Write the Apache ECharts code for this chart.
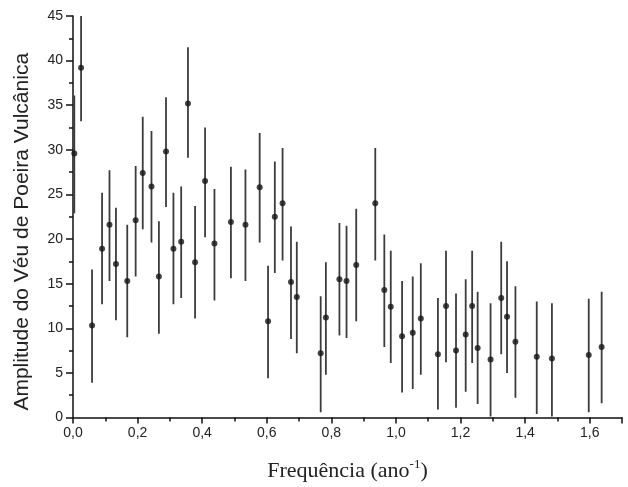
<!DOCTYPE html>
<html>
<head>
<meta charset="utf-8">
<script src="https://cdn.jsdelivr.net/npm/echarts@6/dist/echarts.min.js"></script>
<style>html,body{margin:0;padding:0;background:#fff}#c{width:628px;height:487px}</style>
</head>
<body>
<div id="c"></div>
<script>
var freq = [0.004,0.025,0.059,0.090,0.113,0.133,0.168,0.194,0.216,0.243,0.266,0.288,0.311,0.335,0.356,0.378,0.409,0.438,0.489,0.534,0.578,0.604,0.625,0.649,0.675,0.693,0.767,0.783,0.825,0.847,0.877,0.936,0.964,0.984,1.019,1.052,1.077,1.130,1.155,1.186,1.216,1.236,1.253,1.293,1.326,1.344,1.370,1.436,1.483,1.597,1.637];
var amp = [29.6,39.2,10.3,18.9,21.6,17.2,15.3,22.1,27.4,25.9,15.8,29.8,18.9,19.7,35.2,17.4,26.5,19.5,21.9,21.6,25.8,10.8,22.5,24.0,15.2,13.5,7.2,11.2,15.5,15.3,17.1,24.0,14.3,12.4,9.1,9.5,11.1,7.1,12.5,7.5,9.3,12.5,7.8,6.5,13.4,11.3,8.5,6.8,6.6,7.0,7.9];
var upper = [36.1,45.0,16.6,25.2,27.7,23.5,21.6,28.2,33.7,32.1,22.0,35.9,25.2,25.9,41.5,23.7,32.5,25.6,28.1,27.8,31.9,17.0,28.7,30.2,21.4,19.7,13.6,17.4,21.8,21.5,23.4,30.2,20.5,18.7,15.3,15.8,17.3,13.4,18.7,13.9,15.5,18.7,14.1,12.8,19.7,17.5,14.7,13.0,12.8,13.3,14.1];
var lower = [22.9,33.2,3.9,12.7,15.3,10.9,9.0,15.8,21.1,19.6,9.4,23.6,12.7,13.4,29.1,11.1,20.2,13.1,15.6,15.3,19.6,4.4,16.2,17.6,8.8,7.2,0.6,4.8,9.2,8.9,10.8,17.6,7.9,6.1,2.8,3.2,4.8,0.9,6.2,1.1,2.9,6.1,1.5,0.1,7.1,5.0,2.2,0.4,0.1,0.6,1.6];
var xTicks = [0,0.2,0.4,0.6,0.8,1.0,1.2,1.4,1.6];
var yTicks = [0,5,10,15,20,25,30,35,40,45];

var points = freq.map(function(f,i){return [f, amp[i]];});
var bars = freq.map(function(f,i){return [f, lower[i], upper[i]];});

var chart = echarts.init(document.getElementById('c'), null, {renderer:'canvas'});
chart.setOption({
  animation:false,
  backgroundColor:'#fff',
  grid:{left:73,right:6,top:16,bottom:69,containLabel:false},
  xAxis:{
    type:'value', min:0, max:1.7, interval:0.2,
    axisLine:{show:true,lineStyle:{color:'#111',width:1.5}},
    axisTick:{show:true,length:6,inside:false,lineStyle:{color:'#111',width:1.5}},
    minorTick:{show:true,splitNumber:2,length:4,lineStyle:{color:'#111',width:1.5}},
    splitLine:{show:false},
    axisLabel:{
      margin:9,color:'#222',fontFamily:'Liberation Sans, Arial, sans-serif',fontSize:14,
      formatter:function(v){
        var ok = xTicks.some(function(t){return Math.abs(t-v)<1e-6;});
        return ok ? v.toFixed(1).replace('.',',') : '';
      }
    },
    name:'Frequência (ano{sup|-1})',
    nameLocation:'middle', nameGap:41,
    nameTextStyle:{
      color:'#222',fontFamily:'Liberation Serif, Times New Roman, serif',fontSize:22,
      rich:{sup:{fontSize:13,verticalAlign:'top',padding:[0,0,12,0],color:'#222',fontFamily:'Liberation Serif, serif'}}
    }
  },
  yAxis:{
    type:'value', min:0, max:45, interval:5,
    axisLine:{show:true,lineStyle:{color:'#111',width:1.5}},
    axisTick:{show:true,length:7,lineStyle:{color:'#111',width:1.5}},
    minorTick:{show:true,splitNumber:2,length:4,lineStyle:{color:'#111',width:1.5}},
    splitLine:{show:false},
    axisLabel:{
      margin:10,color:'#222',fontFamily:'Liberation Sans, Arial, sans-serif',fontSize:14,
      formatter:function(v){return yTicks.indexOf(v)>=0 ? String(v) : '';}
    },
    name:'Amplitude do Véu de Poeira Vulcânica',
    nameLocation:'middle', nameGap:40, nameRotate:90,
    nameTextStyle:{color:'#222',fontFamily:'Liberation Sans, Arial, sans-serif',fontSize:21,padding:[0,30,0,0]}
  },
  series:[
    {
      type:'custom',
      clip:true,
      data:bars,
      renderItem:function(params, api){
        var x = api.value(0);
        var p1 = api.coord([x, api.value(1)]);
        var p2 = api.coord([x, api.value(2)]);
        return {
          type:'line',
          shape:{x1:p1[0],y1:p1[1],x2:p2[0],y2:p2[1]},
          style:{stroke:'#3c3c3c',lineWidth:1.8}
        };
      },
      z:2
    },
    {
      type:'scatter',
      data:points,
      symbol:'circle',
      symbolSize:6,
      itemStyle:{color:'#151515'},
      z:3
    }
  ]
});
</script>
</body>
</html>
